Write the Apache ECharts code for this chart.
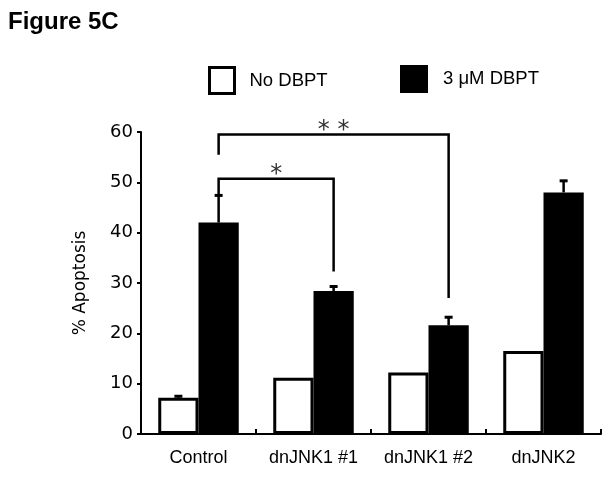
<!DOCTYPE html>
<html>
<head>
<meta charset="utf-8">
<script src="https://cdn.jsdelivr.net/npm/echarts@6/dist/echarts.min.js"></script>
<style>
html,body{margin:0;padding:0;background:#fff;}
#chart{width:612px;height:484px;}
</style>
</head>
<body>
<div id="chart"></div>
<script>
const categories = ['Control', 'dnJNK1 #1', 'dnJNK1 #2', 'dnJNK2'];
const yTicks = [0, 10, 20, 30, 40, 50, 60];
const noDbpt = [7.2, 11.2, 12.2, 16.5];
const noDbptErrTop = [7.5, 11.2, 12.2, 16.5];
const dbpt = [42.0, 28.4, 21.6, 48.0];
const dbptErrTop = [47.4, 29.3, 23.2, 50.3];
// [fromCategory, toCategory, bracketHeight, leftLegBottom, rightLegBottom]
const brackets = [[0, 1, 50.7, 47.4, 32.3], [0, 2, 59.5, 55.5, 27.0]];
const bracketLabels = ['*', '* *'];

const chart = echarts.init(document.getElementById('chart'));
const BAR_OFFSET = 0.175; // bar centre offset as a fraction of band width

function errItem(side) {
  return function (params, api) {
    const idx = api.value(0);
    const top = api.value(1);
    const base = api.value(2);
    const band = api.size([1, 0])[0];
    const pTop = api.coord([idx, top]);
    const pBase = api.coord([idx, base]);
    const x = pTop[0] + side * band * BAR_OFFSET;
    if (top <= base) return null;
    return {
      type: 'group',
      children: [
        {type: 'line', shape: {x1: x, y1: pBase[1], x2: x, y2: pTop[1]}, style: {stroke: '#000', lineWidth: 2.5}},
        {type: 'line', shape: {x1: x - 4, y1: pTop[1], x2: x + 4, y2: pTop[1]}, style: {stroke: '#000', lineWidth: 3}}
      ]
    };
  };
}

function bracketItem(params, api) {
  const from = api.value(0), to = api.value(1);
  const h = api.value(2), lb = api.value(3), rb = api.value(4);
  const band = api.size([1, 0])[0];
  const x1 = api.coord([from, h])[0] + band * BAR_OFFSET;
  const x2 = api.coord([to, h])[0] + band * BAR_OFFSET;
  const y = api.coord([from, h])[1];
  const yl = api.coord([from, lb])[1];
  const yr = api.coord([to, rb])[1];
  return {
    type: 'group',
    children: [
      {type: 'polyline', shape: {points: [[x1, yl], [x1, y], [x2, y], [x2, yr]]},
       style: {stroke: '#000', lineWidth: 2.5, fill: null}},
      {type: 'text', x: (x1 + x2) / 2, y: y + 8,
       style: {text: bracketLabels[params.dataIndex], fill: '#333', font: '24px "DejaVu Sans"',
               align: 'center', verticalAlign: 'bottom'}}
    ]
  };
}

const option = {
  animation: false,
  title: {
    text: 'Figure 5C', left: 8, top: 10, padding: 0,
    textStyle: {fontFamily: 'Liberation Sans', fontSize: 24, fontWeight: 'bold', color: '#000'}
  },
  legend: [
    {data: ['No DBPT'], left: 208, top: 66, padding: 0, itemWidth: 25, itemHeight: 26, icon: 'rect',
     itemStyle: {borderColor: '#000', borderWidth: 3},
     textStyle: {fontFamily: 'Liberation Sans', fontSize: 18.5, color: '#000', padding: [0, 0, 0, 10]}},
    {data: ['3 μM DBPT'], left: 400, top: 65, padding: 0, itemWidth: 28, itemHeight: 28, icon: 'rect',
     itemStyle: {borderWidth: 0},
     textStyle: {fontFamily: 'Liberation Sans', fontSize: 18.5, color: '#000', padding: [0, 0, 0, 10]}}
  ],
  grid: {left: 141, right: 11, top: 132, bottom: 50, containLabel: false},
  xAxis: {
    type: 'category', data: categories, boundaryGap: true,
    axisLine: {lineStyle: {color: '#000', width: 2}},
    axisTick: {show: true, inside: true, length: 5, interval: 0, lineStyle: {color: '#000', width: 2}},
    axisLabel: {interval: 0, margin: 15, fontFamily: 'Liberation Sans', fontSize: 18, color: '#000'}
  },
  yAxis: {
    type: 'value', min: yTicks[0], max: yTicks[yTicks.length - 1], interval: 10,
    name: '% Apoptosis', nameLocation: 'middle', nameGap: 52,
    nameTextStyle: {fontFamily: 'DejaVu Sans', fontSize: 17, color: '#000'},
    splitLine: {show: false},
    axisLine: {show: true, lineStyle: {color: '#000', width: 2}},
    axisTick: {show: true, length: 4, lineStyle: {color: '#000', width: 2}},
    axisLabel: {margin: 8, fontFamily: 'DejaVu Sans', fontSize: 18, color: '#000'}
  },
  series: [
    {name: 'No DBPT', type: 'bar', data: noDbpt, barGap: '0%', barCategoryGap: '30%',
     itemStyle: {color: '#fff', borderColor: '#000', borderWidth: 3}, z: 2},
    {name: '3 μM DBPT', type: 'bar', data: dbpt, barGap: '0%', barCategoryGap: '30%',
     itemStyle: {color: '#000', borderWidth: 0}, z: 2},
    {type: 'custom', renderItem: errItem(-1), clip: false, z: 3,
     data: noDbpt.map((v, i) => [i, noDbptErrTop[i], v])},
    {type: 'custom', renderItem: errItem(1), clip: false, z: 3,
     data: dbpt.map((v, i) => [i, dbptErrTop[i], v])},
    {type: 'custom', renderItem: bracketItem, clip: false, z: 4, data: brackets}
  ]
};
chart.setOption(option);
</script>
</body>
</html>
